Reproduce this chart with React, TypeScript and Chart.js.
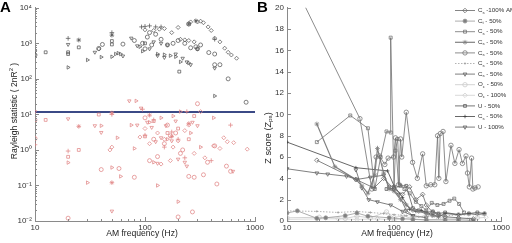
import React, { useEffect, useRef } from 'react';
import { Chart, registerables } from 'chart.js';
import { drawPoint } from 'chart.js/helpers';
Chart.register(...registerables);

const FONT = '"Liberation Sans", Arial, Helvetica, sans-serif';

// ---------------- Panel A data (AM frequency Hz, Rayleigh statistic) ----------------
const upperCircle = [[10,470],[38,720],[41,930],[63,950],[80,1200],[95,1000],[100,700],[105,1500],[110,2000],[115,900],[125,1800],[140,1300],[160,900],[180,1000],[200,1200],[230,1000],[260,750],[290,800],[300,700],[320,900],[380,550],[430,250],[480,250],[430,500],[570,100],[830,22],[250,3500]];
const upperDiamond = [[10,610],[38,690],[100,2400],[120,2300],[135,2500],[150,2600],[175,2000],[210,1300],[230,1250],[250,1200],[280,1100],[300,4000],[320,4200],[340,3800],[375,2900],[400,2300],[430,1400],[480,1100],[530,730],[570,560],[610,470],[680,380],[260,4000],[200,2800]];
const upperPlus = [[20,1380],[50,2000],[93,2900],[100,3000],[110,3100],[125,2900],[140,2900],[430,1300]];
const upperStar = [[25,1240],[50,1700],[250,3500],[290,4300]];
const upperSquare = [[12.5,560],[20,560],[20,500],[25,770],[50,1160],[50,930],[205,160],[100,1000]];
const upperTriDown = [[20,930],[35,560],[63,440],[75,1400],[85,850],[110,700],[120,1100],[140,1000],[160,900],[190,500],[220,380],[240,300],[260,250],[300,700],[430,200],[130,450],[150,400]];
const upperTriRight = [[20,210],[30,340],[40,410],[50,420],[54,500],[57,530],[60,500],[90,800],[95,600],[130,500],[150,480],[170,450],[190,420],[210,300],[250,280],[430,33]];

const lowerCircle = [[10,7],[10,2.1],[20,0.012],[40,0.28],[58,0.3],[80,0.17],[110,0.5],[130,0.65],[150,1.5],[170,2.5],[200,0.013],[220,1.0],[270,0.018],[250,0.18],[280,0.17],[340,0.2],[370,0.45],[430,1.3],[450,0.11],[550,0.35],[600,0.25],[160,5],[190,3],[100,8],[120,2],[300,20],[210,0.8]];
const lowerDiamond = [[50,1.2],[48,1.0],[100,4],[110,1.5],[130,3],[150,2],[180,1.2],[200,1.8],[230,3.5],[250,5],[280,0.8],[320,12],[350,0.6],[420,1.3],[480,1.1],[520,2.2],[560,1.7],[640,1.6],[850,1.05],[90,2.3],[140,0.4],[170,0.5]];
const lowerPlus = [[10,1.4],[20,0.93],[50,10],[95,14],[100,2.6],[120,7],[150,1.2],[175,3.2],[200,2],[230,0.6],[240,12],[400,0.5],[600,5]];
const lowerStar = [[25,4.6],[50,11],[50,0.12],[110,9.5],[175,2.4],[250,5.5]];
const lowerSquare = [[12.5,7],[20,0.64],[25,1.0],[38,9.9],[100,2.4],[120,6.5],[160,3],[200,4],[250,2],[280,9]];
const lowerTriDown = [[10,12],[20,7.5],[35,4.8],[40,3.1],[50,0.019],[72,24],[85,5],[92,15],[105,6],[115,4.3],[125,1.7],[140,2.2],[155,4.8],[175,1.8],[190,6.5],[230,0.45],[240,0.35],[300,4.8],[630,0.25],[130,0.42],[200,0.55],[270,6]];
const lowerTriRight = [[20,0.44],[30,0.12],[40,4.8],[50,0.32],[56,2.2],[60,0.18],[83,24],[75,5],[80,1.1],[110,6],[130,0.1],[140,8],[160,2],[180,9],[210,12],[260,3],[320,1.2],[420,8],[120,0.45],[200,0.035]];

const thresholdValue = 11.7;
const aXTicks = [10, 100, 1000];
const aYExponents = [-2, -1, 0, 1, 2, 3, 4];

// ---------------- Panel B data (AM frequency Hz, Z score) ----------------
const bLabels = ['C_{s} -100% AM','C_{t} - 50%','C_{s} - 50%','C_{s} - 50%','C_{s} - 50%','C_{s} - 50%','C_{s} - 50%','O_{c} - 50%','O_{c} - 100%','U - 50%','C_{s} - 50%','U - 100%'];
const bS1 = [[19,5.7],[44,3.9],[65,3.1],[80,4.0],[100,3.0],[120,2.5],[140,3.2],[160,2.0],[185,2.5],[200,1.5],[230,0.8],[260,0.6],[300,0.4],[400,0.3],[550,0.2]];
const bS2 = [[10,0.75],[12.5,0.95],[19,0.25],[23,0.3],[35,0.5],[45,0.75],[57,0.45],[90,0.3],[120,0.2],[150,0.15],[200,0.1],[300,0.1],[400,0.1],[550,0.05]];
const bS3 = [[19,7.4],[39,9.9],[57,8.7],[66,3.0],[75,6.0],[85,8.4],[93,8.3],[93,17.2],[100,3.2],[103,6.6],[108,7.7],[113,3.4],[125,3.0],[140,2.6],[160,1.8],[180,1.4],[200,1.0],[225,1.7],[254,1.5],[290,1.6],[330,1.9],[365,2.1],[405,1.6],[450,0.8]];
const bS4 = [[19,9.1],[28,5.1],[44,3.9],[50,3.3],[57,2.6],[66,4.3],[70,6.8],[80,4.5],[90,3.0],[100,2.8],[115,2.0],[130,1.5],[150,1.0],[170,0.9],[200,0.7],[230,0.5],[260,0.4]];
const bS5 = [[10,23.6],[48,9.6],[62,3.0],[68,6.0],[73,6.1],[82,5.3],[88,5.9],[99,6.0],[103,7.8],[110,3.4],[115,7.7],[118,6.0],[130,10.2],[149,5.5],[165,4.0],[185,6.3],[200,3.3],[220,3.4],[240,3.4],[255,8.0],[262,4.0],[270,8.2],[287,8.4],[305,3.7],[340,7.1],[370,5.4],[405,6.7],[435,5.4],[470,6.1],[485,4.5],[505,3.2],[530,5.9],[545,3.0],[570,3.1],[610,3.2]];
const bS6 = [[10,0.95],[19,0.9],[30,0.8],[45,0.9],[60,0.8],[80,0.7],[100,0.6],[130,0.5],[170,0.4],[200,0.45],[300,0.5],[400,0.55],[600,0.6],[700,0.55]];
const bS7 = [[44,4.8],[50,3.1],[58,2.0],[70,1.8],[93,1.5],[120,0.9],[150,0.5],[200,0.3]];
const bS8 = [[10,0.3],[20,0.35],[35,0.25],[45,0.45],[60,0.3],[85,0.85],[100,0.3],[120,0.5],[150,0.2],[200,0.1],[300,0.2],[400,0.15],[600,0.3]];
const bS9 = [[10,0.15],[19,0.2],[30,0.2],[45,0.15],[70,0.2],[100,0.1],[150,0.3],[200,0.5],[300,0.3],[500,0.2],[720,0.35]];
const bS10 = [[85,3.0],[100,3.1],[115,3.3],[130,3.3],[150,1.2],[170,1.0],[200,0.8],[230,0.9],[260,0.7],[300,0.8],[400,0.6],[500,0.7],[600,0.8],[700,0.7]];
const bS11 = [[10,7.4],[44,5.0],[87,4.7],[100,3.3],[120,2.2],[140,1.1],[160,0.9],[180,1.0],[200,0.8],[230,0.6],[260,0.4],[300,0.7],[400,0.6],[500,0.7],[600,0.6],[700,0.7]];
const bS12 = [[10,4.9],[19,4.5],[24,4.4],[36,4.2],[45,3.9],[60,4.1],[80,4.3],[90,3.2],[110,2.5],[130,1.0],[150,0.5]];
const bSeries = [bS1,bS2,bS3,bS4,bS5,bS6,bS7,bS8,bS9,bS10,bS11,bS12];
const bYTicks = [0,2,4,6,8,10,12,14,16,18,20];

// ---------------- styles ----------------
const BLACK = '#555555';
const RED = '#e08585';
const NONE = 'rgba(0,0,0,0)';
const bStyles = [
  { c: '#666666', ps: 'rectRot', rot: 0, r: 2.3, fill: NONE, dash: [] as number[], w: 0.8 },
  { c: '#999999', ps: 'circle', rot: 0, r: 2.0, fill: '#808080', dash: [], w: 0.8 },
  { c: '#707070', ps: 'rect', rot: 0, r: 2.1, fill: NONE, dash: [], w: 0.8 },
  { c: '#808080', ps: 'star', rot: 0, r: 2.4, fill: NONE, dash: [], w: 1.2 },
  { c: '#707070', ps: 'circle', rot: 0, r: 2.2, fill: NONE, dash: [], w: 0.8 },
  { c: '#a0a0a0', ps: 'circle', rot: 0, r: 0.7, fill: '#a0a0a0', dash: [1.5, 1.5], w: 0.8 },
  { c: '#606060', ps: 'triangle', rot: 180, r: 2.2, fill: NONE, dash: [], w: 0.8 },
  { c: '#c8c8c8', ps: 'circle', rot: 0, r: 2.2, fill: NONE, dash: [], w: 0.8 },
  { c: '#d0d0d0', ps: 'rectRot', rot: 0, r: 2.3, fill: NONE, dash: [], w: 0.8 },
  { c: '#555555', ps: 'rect', rot: 0, r: 2.0, fill: NONE, dash: [], w: 0.8 },
  { c: '#404040', ps: 'cross', rot: 0, r: 1.8, fill: NONE, dash: [], w: 0.8 },
  { c: '#606060', ps: 'triangle', rot: 180, r: 2.2, fill: NONE, dash: [], w: 0.8 },
];

// ---------------- helpers ----------------
type Part = { t: string; s: number };
function parseRich(str: string): Part[] {
  const parts: Part[] = [];
  const re = /([_^])\{([^}]*)\}/g;
  let last = 0; let m: RegExpExecArray | null;
  while ((m = re.exec(str))) {
    if (m.index > last) parts.push({ t: str.slice(last, m.index), s: 0 });
    parts.push({ t: m[2], s: m[1] === '^' ? 1 : -1 });
    last = m.index + m[0].length;
  }
  if (last < str.length) parts.push({ t: str.slice(last), s: 0 });
  return parts;
}
function drawRich(ctx: CanvasRenderingContext2D, str: string, x: number, y: number, size: number, align: 'left' | 'center' | 'right', rotate = false, color = '#222') {
  const parts = parseRich(str);
  ctx.save();
  ctx.translate(x, y);
  if (rotate) ctx.rotate(-Math.PI / 2);
  ctx.fillStyle = color;
  ctx.textBaseline = 'middle';
  ctx.textAlign = 'left';
  let total = 0;
  const widths = parts.map(p => {
    ctx.font = `${p.s ? size * 0.68 : size}px ${FONT}`;
    const w = ctx.measureText(p.t).width; total += w; return w;
  });
  let cx = align === 'center' ? -total / 2 : align === 'right' ? -total : 0;
  parts.forEach((p, i) => {
    ctx.font = `${p.s ? size * 0.68 : size}px ${FONT}`;
    const dy = p.s === 1 ? -size * 0.38 : p.s === -1 ? size * 0.3 : 0;
    ctx.fillText(p.t, cx, dy);
    cx += widths[i];
  });
  ctx.restore();
}
const SUP: Record<string, string> = { '-': '⁻', '0': '⁰', '1': '¹', '2': '²', '3': '³', '4': '⁴' };
const supNum = (n: number) => String(n).split('').map(ch => SUP[ch] || ch).join('');

function logMinor(lo: number, hi: number) {
  const out: number[] = [];
  for (let d = lo; d < hi; d *= 10) for (let k = 2; k <= 9; k++) out.push(k * d);
  return out;
}

function inwardTicks(opts: { xMajor: number[]; xMinor: number[]; yMajor: number[]; yMinor: number[] }) {
  return {
    id: 'inwardTicks',
    afterDatasetsDraw(chart: any) {
      const { ctx, chartArea: a, scales } = chart;
      const x = scales.x, y = scales.y;
      ctx.save();
      ctx.strokeStyle = '#8a8a8a';
      ctx.lineWidth = 1;
      ctx.beginPath();
      const vx = (v: number, len: number) => { const p = Math.round(x.getPixelForValue(v)) + 0.5; ctx.moveTo(p, a.bottom); ctx.lineTo(p, a.bottom - len); };
      const vy = (v: number, len: number) => { const p = Math.round(y.getPixelForValue(v)) + 0.5; ctx.moveTo(a.left, p); ctx.lineTo(a.left + len, p); };
      opts.xMajor.forEach(v => vx(v, 4));
      opts.xMinor.forEach(v => vx(v, 2));
      opts.yMajor.forEach(v => vy(v, 4));
      opts.yMinor.forEach(v => vy(v, 2));
      ctx.stroke();
      ctx.restore();
    },
  };
}

const toXY = (arr: number[][]) => arr.map(([x, y]) => ({ x, y }));

function scatterSet(pts: number[][], color: string, style: string, rot: number) {
  return {
    type: 'scatter',
    data: toXY(pts),
    pointStyle: style,
    rotation: rot,
    pointRadius: style === 'cross' || style === 'star' ? 2.3 : 2.0,
    borderColor: color,
    backgroundColor: NONE,
    borderWidth: 0.75,
    showLine: false,
  };
}

// ---------------- Panel A ----------------
function PanelA() {
  const ref = useRef<HTMLCanvasElement>(null);
  useEffect(() => {
    const groups: [number[][], string, string, number][] = [
      [upperCircle, BLACK, 'circle', 0], [upperDiamond, BLACK, 'rectRot', 0], [upperPlus, BLACK, 'cross', 0],
      [upperStar, BLACK, 'star', 0], [upperSquare, BLACK, 'rect', 0], [upperTriDown, BLACK, 'triangle', 180],
      [upperTriRight, BLACK, 'triangle', 90],
      [lowerCircle, RED, 'circle', 0], [lowerDiamond, RED, 'rectRot', 0], [lowerPlus, RED, 'cross', 0],
      [lowerStar, RED, 'star', 0], [lowerSquare, RED, 'rect', 0], [lowerTriDown, RED, 'triangle', 180],
      [lowerTriRight, RED, 'triangle', 90],
    ];
    const datasets: any[] = groups.map(g => scatterSet(g[0], g[1], g[2], g[3]));
    datasets.push({
      type: 'line',
      data: [{ x: aXTicks[0], y: thresholdValue }, { x: aXTicks[aXTicks.length - 1], y: thresholdValue }],
      borderColor: '#3b4a86',
      borderWidth: 2,
      pointRadius: 0,
    });
    const textPlugin = {
      id: 'aText',
      afterDraw(chart: any) {
        const ctx = chart.ctx;
        drawRich(ctx, 'AM frequency (Hz)', 142, 234, 8.6, 'center');
        drawRich(ctx, 'Rayleigh statistic ( 2nR^{2} )', 15, 111, 8.6, 'center', true);
        ctx.save();
        ctx.font = `bold 15px ${FONT}`;
        ctx.fillStyle = '#000';
        ctx.textBaseline = 'top';
        ctx.fillText('A', 0, 0);
        ctx.restore();
      },
    };
    const chart = new Chart(ref.current!, {
      type: 'scatter',
      data: { datasets },
      options: {
        animation: false,
        responsive: false,
        maintainAspectRatio: false,
        events: [],
        layout: { padding: { left: 0, top: 6, right: 20, bottom: 0 } },
        plugins: { legend: { display: false }, tooltip: { enabled: false } },
        scales: {
          x: {
            type: 'logarithmic', min: 10, max: 1000,
            afterBuildTicks: (s: any) => { s.ticks = aXTicks.map(v => ({ value: v })); },
            afterFit: (s: any) => { s.height = 22; },
            grid: { display: false, drawTicks: false },
            border: { display: true, color: '#8a8a8a' },
            ticks: { autoSkip: false, maxRotation: 0, padding: 2, color: '#333', font: { family: FONT, size: 8 }, callback: (v: any) => String(v) },
          },
          y: {
            type: 'logarithmic', min: 0.01, max: 10000,
            afterBuildTicks: (s: any) => { s.ticks = aYExponents.map(e => ({ value: Math.pow(10, e) })); },
            afterFit: (s: any) => { s.width = 35; },
            grid: { display: false, drawTicks: false },
            border: { display: true, color: '#8a8a8a' },
            ticks: { autoSkip: false, padding: 3, color: '#333', font: { family: FONT, size: 8 }, callback: (v: any) => '10' + supNum(Math.round(Math.log10(v))) },
          },
        },
      } as any,
      plugins: [inwardTicks({ xMajor: aXTicks, xMinor: logMinor(10, 1000), yMajor: aYExponents.map(e => Math.pow(10, e)), yMinor: logMinor(0.01, 10000) }), textPlugin],
    });
    return () => chart.destroy();
  }, []);
  return <canvas ref={ref} width={275} height={243} style={{ position: 'absolute', left: 0, top: 0, width: 275, height: 243 }} />;
}

// ---------------- Panel B ----------------
function PanelB() {
  const ref = useRef<HTMLCanvasElement>(null);
  useEffect(() => {
    const datasets: any[] = bSeries.map((s, i) => {
      const st = bStyles[i];
      return {
        type: 'line',
        label: bLabels[i],
        data: toXY(s),
        borderColor: st.c,
        borderWidth: st.w,
        borderDash: st.dash,
        pointStyle: st.ps,
        pointRotation: st.rot,
        pointRadius: st.r,
        pointBorderColor: st.c,
        pointBackgroundColor: st.fill,
        pointBorderWidth: 0.75,
        fill: false,
        tension: 0,
      };
    });
    const legendPlugin = {
      id: 'bLegend',
      afterDraw(chart: any) {
        const ctx = chart.ctx;
        bLabels.forEach((lab, i) => {
          const st = bStyles[i];
          const y = 10.5 + i * 10.6;
          ctx.save();
          ctx.strokeStyle = st.c;
          ctx.lineWidth = st.w;
          ctx.setLineDash(st.dash);
          ctx.beginPath();
          ctx.moveTo(199, y);
          ctx.lineTo(219, y);
          ctx.stroke();
          ctx.setLineDash([]);
          ctx.fillStyle = st.fill;
          ctx.strokeStyle = st.c;
          ctx.lineWidth = 0.75;
          drawPoint(ctx, { pointStyle: st.ps as any, radius: st.r, rotation: st.rot, borderWidth: 0.75 } as any, 209, y);
          ctx.restore();
          drawRich(ctx, lab, 222, y, 6.2, 'left', false, '#333');
        });
        drawRich(ctx, 'AM frequency (Hz)', 141, 234, 8.6, 'center');
        drawRich(ctx, 'Z score (Z_{ps})', 12, 138, 9.2, 'center', true);
        ctx.save();
        ctx.font = `bold 15px ${FONT}`;
        ctx.fillStyle = '#000';
        ctx.textBaseline = 'top';
        ctx.fillText('B', 1, 0);
        ctx.restore();
      },
    };
    const chart = new Chart(ref.current!, {
      type: 'line',
      data: { datasets },
      options: {
        animation: false,
        responsive: false,
        maintainAspectRatio: false,
        events: [],
        layout: { padding: { left: 0, top: 6, right: 10, bottom: 0 } },
        plugins: { legend: { display: false }, tooltip: { enabled: false } },
        scales: {
          x: {
            type: 'logarithmic', min: 10, max: 1000,
            afterBuildTicks: (s: any) => { s.ticks = aXTicks.map(v => ({ value: v })); },
            afterFit: (s: any) => { s.height = 22; },
            grid: { display: false, drawTicks: false },
            border: { display: true, color: '#8a8a8a' },
            ticks: { autoSkip: false, maxRotation: 0, padding: 2, color: '#333', font: { family: FONT, size: 8 }, callback: (v: any) => String(v) },
          },
          y: {
            type: 'linear', min: 0, max: 20,
            afterBuildTicks: (s: any) => { s.ticks = bYTicks.map(v => ({ value: v })); },
            afterFit: (s: any) => { s.width = 31; },
            grid: { display: false, drawTicks: false },
            border: { display: true, color: '#8a8a8a' },
            ticks: { autoSkip: false, padding: 3, color: '#333', font: { family: FONT, size: 8 }, callback: (v: any) => String(v) },
          },
        },
      } as any,
      plugins: [inwardTicks({ xMajor: aXTicks, xMinor: logMinor(10, 1000), yMajor: bYTicks, yMinor: [] }), legendPlugin],
    });
    return () => chart.destroy();
  }, []);
  return <canvas ref={ref} width={256} height={243} style={{ position: 'absolute', left: 256, top: 0, width: 256, height: 243 }} />;
}

export default function App() {
  return (
    <div style={{ position: 'fixed', left: 0, top: 0, width: 512, height: 243, background: '#fff', overflow: 'hidden' }}>
      <PanelA />
      <PanelB />
    </div>
  );
}
